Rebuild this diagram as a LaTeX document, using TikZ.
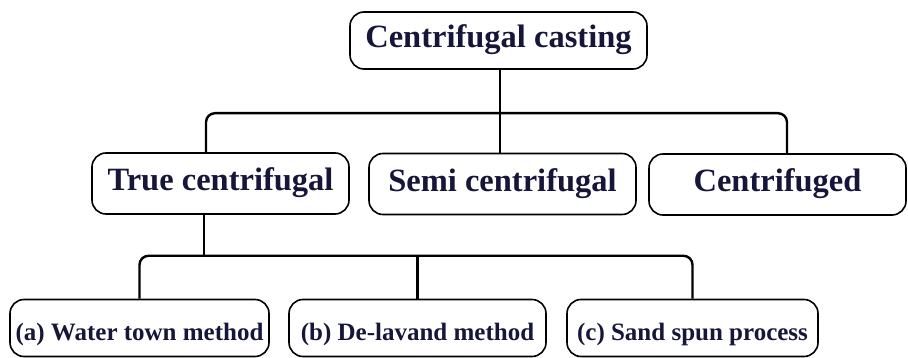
\documentclass[tikz,border=0pt]{standalone}
\usepackage{fontspec}
\setmainfont{Liberation Serif}
\definecolor{txt}{RGB}{22,22,58}
\begin{document}
\begin{tikzpicture}[x=1pt,y=-1pt,
  box/.style={draw=black, line width=1.6pt, rounded corners=14pt, inner sep=0pt,
    font=\bfseries\fontsize{32.5}{36}\selectfont, text=txt,
    text height=22pt, text depth=7pt},
  smallbox/.style={box, font=\bfseries\fontsize{25}{28}\selectfont,
    text height=24pt, text depth=0pt},
  conn/.style={draw=black, line width=2.4pt, rounded corners=9pt}]
\useasboundingbox (0,0) rectangle (908,358);
\node[box, minimum width=297pt, minimum height=57pt] (top) at (498.5,40.5) {Centrifugal casting};
\node[box, minimum width=257pt, minimum height=61pt] (true) at (220.5,183.5) {True centrifugal};
\node[box, minimum width=267pt, minimum height=61pt] (semi) at (502.5,184) {Semi centrifugal};
\node[box, minimum width=257pt, minimum height=61pt] (cfg) at (777.5,184.5) {Centrifuged};
\node[smallbox, minimum width=259pt, minimum height=57pt] (a) at (139.5,328) {(a) Water town method};
\node[smallbox, minimum width=257pt, minimum height=57pt] (b) at (417.5,328) {(b) De-lavand method};
\node[smallbox, minimum width=251pt, minimum height=57pt] (c) at (692.5,328) {(c) Sand spun process};
\coordinate (s1) at ([xshift=1.5pt]top.south);
\draw[conn] (s1) -- (s1 |- semi.north);
\draw[conn] ([xshift=-14.5pt]true.north) -- ++(0,-39) -| ([xshift=9.5pt]cfg.north);
\coordinate (s2) at ([xshift=-16.5pt]true.south);
\draw[conn] (s2) -- ++(0,41) coordinate (j2);
\draw[conn] (a.north) |- (j2) -| (c.north);
\draw[conn] (b.north) -- (b.north |- j2);
\end{tikzpicture}
\end{document}
